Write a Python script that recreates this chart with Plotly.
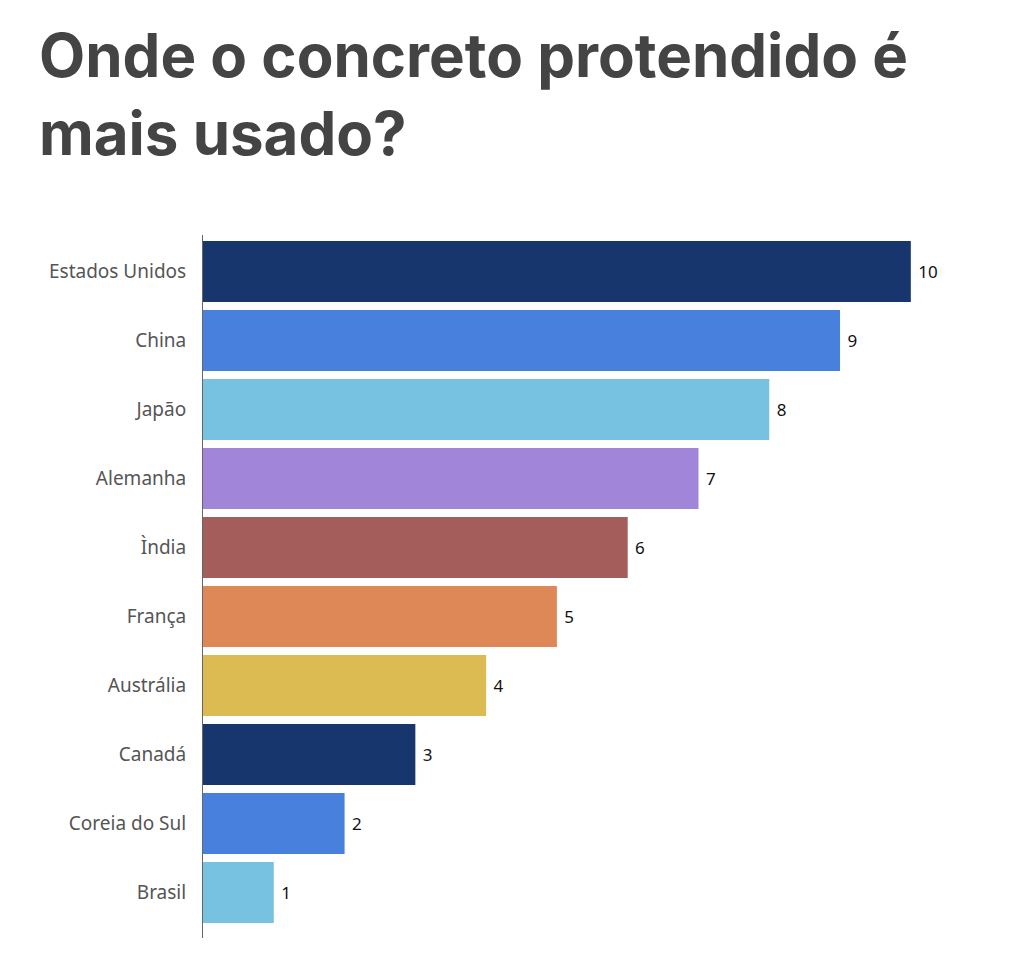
import plotly.graph_objects as go

countries = ["Estados Unidos", "China", "Japão", "Alemanha", "Ìndia", "França",
             "Austrália", "Canadá", "Coreia do Sul", "Brasil"]
values = [10, 9, 8, 7, 6, 5, 4, 3, 2, 1]
colors = ["#17366E", "#4880DE", "#77C1E1", "#A085D8", "#A45D5A", "#DE8757",
          "#DCBB52", "#17366E", "#4880DE", "#77C1E1"]
title_text = "Onde o concreto protendido é<br>mais usado?"

fig = go.Figure(go.Bar(
    x=values, y=countries, orientation="h",
    marker=dict(color=colors, line=dict(width=0)),
    text=values, texttemplate=" %{x}", textposition="outside",
    textfont=dict(family="Noto Sans", size=17, color="#111111"),
    cliponaxis=False, width=0.885,
))

fig.update_layout(
    width=1024, height=957,
    margin=dict(l=203, r=7, t=235, b=19),
    paper_bgcolor="white", plot_bgcolor="white",
    showlegend=False,
    xaxis=dict(range=[0, 11.5], visible=False, fixedrange=True),
    yaxis=dict(categoryorder="array", categoryarray=countries,
               range=[9.66, -0.53], showline=True, linecolor="#666666", linewidth=1,
               showgrid=False, ticks="", ticklabelstandoff=12,
               tickfont=dict(family="Noto Sans", size=19, color="#555555")),
    annotations=[dict(text="<b>" + title_text + "</b>", xref="paper", yref="paper",
                      x=-166/814, y=1 + 218/703, xanchor="left", yanchor="top",
                      align="left", showarrow=False,
                      font=dict(family="Inter", size=60, color="#444444"))],
)

fig.write_html("out.html")
